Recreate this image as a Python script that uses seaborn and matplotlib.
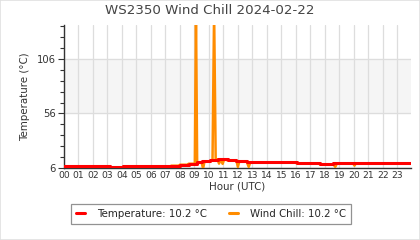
import matplotlib
matplotlib.use("Agg")
import matplotlib.pyplot as plt
import seaborn as sns
import pandas as pd
from matplotlib.patches import Rectangle
from matplotlib.ticker import FixedLocator

# ---- data ----
temp_hours = [0, 3.2, 3.2, 4.1, 4.1, 7.4, 7.4, 8.0, 8.0, 8.6, 8.6, 9.2, 9.2, 9.55,
              9.55, 10.1, 10.1, 10.6, 10.6, 11.3, 11.3, 11.9, 11.9, 12.6, 12.6,
              16.05, 16.05, 17.65, 17.65, 18.6, 18.6, 23.95]
temp_vals = [7.4, 7.4, 6.6, 6.6, 7.4, 7.4, 8.1, 8.1, 9.0, 9.0, 9.9, 9.9, 11.1, 11.1,
             12.1, 12.1, 13.0, 13.0, 13.9, 13.9, 13.0, 13.0, 12.1, 12.1, 11.1,
             11.1, 10.2, 10.2, 9.3, 9.3, 10.2, 10.2]

wc_hours = [0, 3.2, 3.2, 4.1, 4.1, 7.4, 7.4, 8.0, 8.0, 8.6, 8.6, 9.03, 9.11, 9.19,
            9.5, 9.6, 9.7, 10.1, 10.25, 10.36, 10.47, 10.6, 10.7, 10.8, 10.95,
            11.05, 11.3, 11.9, 12.0, 12.1, 12.6, 12.75, 12.85, 16.05, 16.05,
            17.65, 17.65, 18.6, 18.72, 18.84, 19.95, 20.05, 20.15, 23.95]
wc_vals = [7.4, 7.4, 6.6, 6.6, 7.4, 7.4, 8.1, 8.1, 9.0, 9.0, 9.9, 9.9, 150, 11.1,
           11.1, 5.5, 12.1, 12.1, 13.0, 150, 13.0, 13.9, 10.0, 13.9, 9.8,
           13.9, 13.0, 13.0, 7.0, 12.1, 12.1, 7.0, 11.1, 11.1, 10.2,
           10.2, 9.3, 9.3, 7.0, 10.2, 10.2, 8.2, 10.2, 10.2]

hour_labels = [f"{h:02d}" for h in range(24)]
y_major = [6, 56, 106]
y_minor = [16, 26, 36, 46, 66, 76, 86, 96, 116, 126, 136]

title = "WS2350 Wind Chill 2024-02-22"
temp_label = "Temperature: 10.2 °C"
wc_label = "Wind Chill: 10.2 °C"

# ---- plot ----
sns.set_theme(style="white")
plt.rcParams["font.family"] = ["DejaVu Sans"]

fig = plt.figure(figsize=(4.2, 2.4), dpi=100)
ax = fig.add_axes([64 / 420, 1 - 168 / 240, (411 - 64) / 420, (168 - 25) / 240])

ax.axhspan(56, 106, color="#f5f5f5", zorder=0)

df_wc = pd.DataFrame({"hour": wc_hours, "val": wc_vals})
df_t = pd.DataFrame({"hour": temp_hours, "val": temp_vals})
sns.lineplot(data=df_wc, x="hour", y="val", sort=False, estimator=None, ax=ax,
             color="#ff8c00", lw=1.8, label=wc_label, zorder=3)
sns.lineplot(data=df_t, x="hour", y="val", sort=False, estimator=None, ax=ax,
             color="#ff0000", lw=2.2, label=temp_label, zorder=4)

ax.set_xlim(0, 23.95)
ax.set_ylim(6, 137)
ax.set_xticks(range(24))
ax.set_xticklabels(hour_labels)
ax.set_yticks(y_major)
ax.yaxis.set_minor_locator(FixedLocator(y_minor))

ax.grid(True, axis="x", color="#dddddd", lw=0.9)
ax.grid(True, axis="y", which="major", color="#dddddd", lw=0.9)
ax.set_axisbelow(True)

for s in ["top", "right"]:
    ax.spines[s].set_visible(False)
for s in ["left", "bottom"]:
    ax.spines[s].set_color("#333333")
    ax.spines[s].set_linewidth(1.0)

ax.tick_params(axis="x", which="both", length=0, pad=2, labelsize=6.6, colors="#333333")
ax.tick_params(axis="y", which="major", length=4, width=0.8, pad=2, labelsize=7.2, colors="#333333", left=True)
ax.tick_params(axis="y", which="minor", length=3, width=0.8, color="#333333", left=True)

ax.set_xlabel("Hour (UTC)", fontsize=7.4, color="#333333", labelpad=1)
ax.set_ylabel("Temperature (°C)", fontsize=7.4, color="#333333", labelpad=5)
fig.text(0.5, 1 - 11 / 240, title, ha="center", va="center", fontsize=9.6, color="#444444")

h, l = ax.get_legend_handles_labels()
leg = fig.legend([h[1], h[0]], [l[1], l[0]], loc="center", bbox_to_anchor=(211 / 420, 1 - 214 / 240),
                 ncol=2, fontsize=7.4, frameon=True, fancybox=False, edgecolor="#777777",
                 handlelength=0.9, handletextpad=1.1, columnspacing=2.2, borderpad=0.5)
leg.get_frame().set_linewidth(0.9)
for line in leg.get_lines():
    line.set_linewidth(2.2)
if ax.get_legend():
    ax.get_legend().remove()

fig.patches.append(Rectangle((0, 0), 1, 1, transform=fig.transFigure, fill=False,
                             edgecolor="#e0e0e0", lw=1.2))

fig.savefig("out.png", dpi=100)
